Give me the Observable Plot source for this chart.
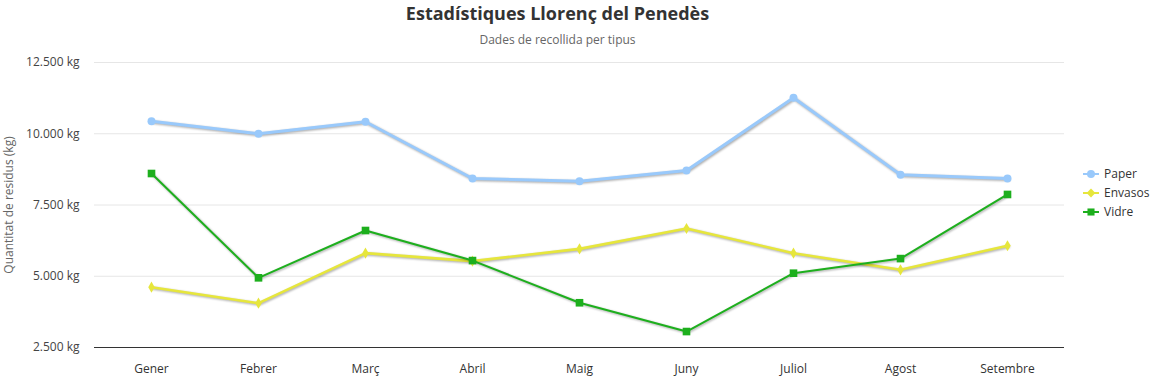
<!DOCTYPE html>
<html>
<head>
<meta charset="utf-8">
<script src="https://cdn.jsdelivr.net/npm/d3@7"></script>
<script src="https://cdn.jsdelivr.net/npm/@observablehq/plot@0.6"></script>
<style>
  html, body { margin: 0; padding: 0; background: #fff; }
  body { width: 1157px; height: 379px; position: relative; overflow: hidden; font-family: "Open Sans", "Noto Sans", sans-serif; }
  #title { height: 50px; position: relative; }
  #title .t { position: absolute; left: 0; width: 1115px; text-align: center; top: 1px; font-size: 18px; font-weight: 700; color: #333; }
  #title .s { position: absolute; left: 0; width: 1115px; text-align: center; top: 31px; font-size: 12px; color: #666; }
  #legend { position: absolute; left: 1083px; top: 164px; font-size: 12px; color: #333; }
  #legend .item { height: 19px; display: flex; align-items: center; }
  #legend svg { margin-right: 5px; }
  g[aria-label="line"] { filter: drop-shadow(1px 1.5px 1.2px rgba(0,0,0,0.35)); }
</style>
</head>
<body>
<div id="title"><div class="t">Estadístiques Llorenç del Penedès</div><div class="s">Dades de recollida per tipus</div></div>
<div id="chart"></div>
<div id="legend"></div>
<script>
const months = ["Gener", "Febrer", "Març", "Abril", "Maig", "Juny", "Juliol", "Agost", "Setembre"];
const seriesNames = ["Paper", "Envasos", "Vidre"];
const paper = [10440, 10000, 10420, 8430, 8335, 8710, 11260, 8560, 8430];
const envasos = [4616, 4055, 5810, 5530, 5960, 6675, 5810, 5226, 6070];
const vidre = [8605, 4945, 6605, 5550, 4070, 3060, 5107, 5620, 7870];
const yTicks = [2500, 5000, 7500, 10000, 12500];
const colors = ["#99c9fb", "#e6e63c", "#1daf1d"];
const symbols = ["circle", "diamond", "square"];
const widths = [3, 2.6, 2];
const radii = [4, 3.4, 4.3];

const values = [paper, envasos, vidre];
const data = [];
seriesNames.forEach((s, si) => months.forEach((m, i) => data.push({serie: s, month: m, value: values[si][i]})));

const loc = d3.formatLocale({decimal: ",", thousands: ".", grouping: [3], currency: ["", " €"]});
const fmt = v => loc.format(",")(v) + " kg";

const marks = [
  Plot.gridY(yTicks, {stroke: "#e6e6e6", strokeOpacity: 1}),
  Plot.ruleY([2500], {stroke: "#333", strokeWidth: 1}),
  Plot.axisY(yTicks, {tickSize: 0, tickPadding: 15, tickFormat: fmt, fontSize: 12, fill: "#444",
    label: "Quantitat de residus (kg)", labelAnchor: "center", labelOffset: 90, labelArrow: "none"}),
  Plot.axisX({tickSize: 0, tickPadding: 17, fontSize: 12, fill: "#333", label: null})
];
seriesNames.forEach((s, si) => {
  const d = data.filter(r => r.serie === s);
  marks.push(Plot.line(d, {x: "month", y: "value", stroke: colors[si], strokeWidth: widths[si]}));
});
seriesNames.forEach((s, si) => {
  const d = data.filter(r => r.serie === s);
  marks.push(Plot.dot(d, {x: "month", y: "value", fill: colors[si], r: radii[si], symbol: symbols[si], stroke: null}));
});

const chart = Plot.plot({
  width: 1157,
  height: 329,
  marginTop: 12,
  marginBottom: 32,
  marginLeft: 94,
  marginRight: 93,
  style: {fontFamily: "'Open Sans', 'Noto Sans', sans-serif", fontSize: "12px", color: "#333", background: "#fff"},
  x: {type: "point", domain: months, padding: 0.5},
  y: {domain: [2500, 12500]},
  marks
});
document.getElementById("chart").appendChild(chart);
chart.querySelectorAll('g[aria-label="y-axis label"] text').forEach(t => t.setAttribute("fill", "#666"));

const legend = document.getElementById("legend");
seriesNames.forEach((s, si) => {
  const item = document.createElement("div");
  item.className = "item";
  const sym = d3.symbol(si === 0 ? d3.symbolCircle : si === 1 ? d3.symbolDiamond2 : d3.symbolSquare, si === 0 ? 50 : 50)();
  item.innerHTML = `<svg width="16" height="12"><line x1="0" x2="16" y1="6" y2="6" stroke="${colors[si]}" stroke-width="2"/><path d="${sym}" transform="translate(8,6)" fill="${colors[si]}"/></svg><span>${s}</span>`;
  legend.appendChild(item);
});
</script>
</body>
</html>
